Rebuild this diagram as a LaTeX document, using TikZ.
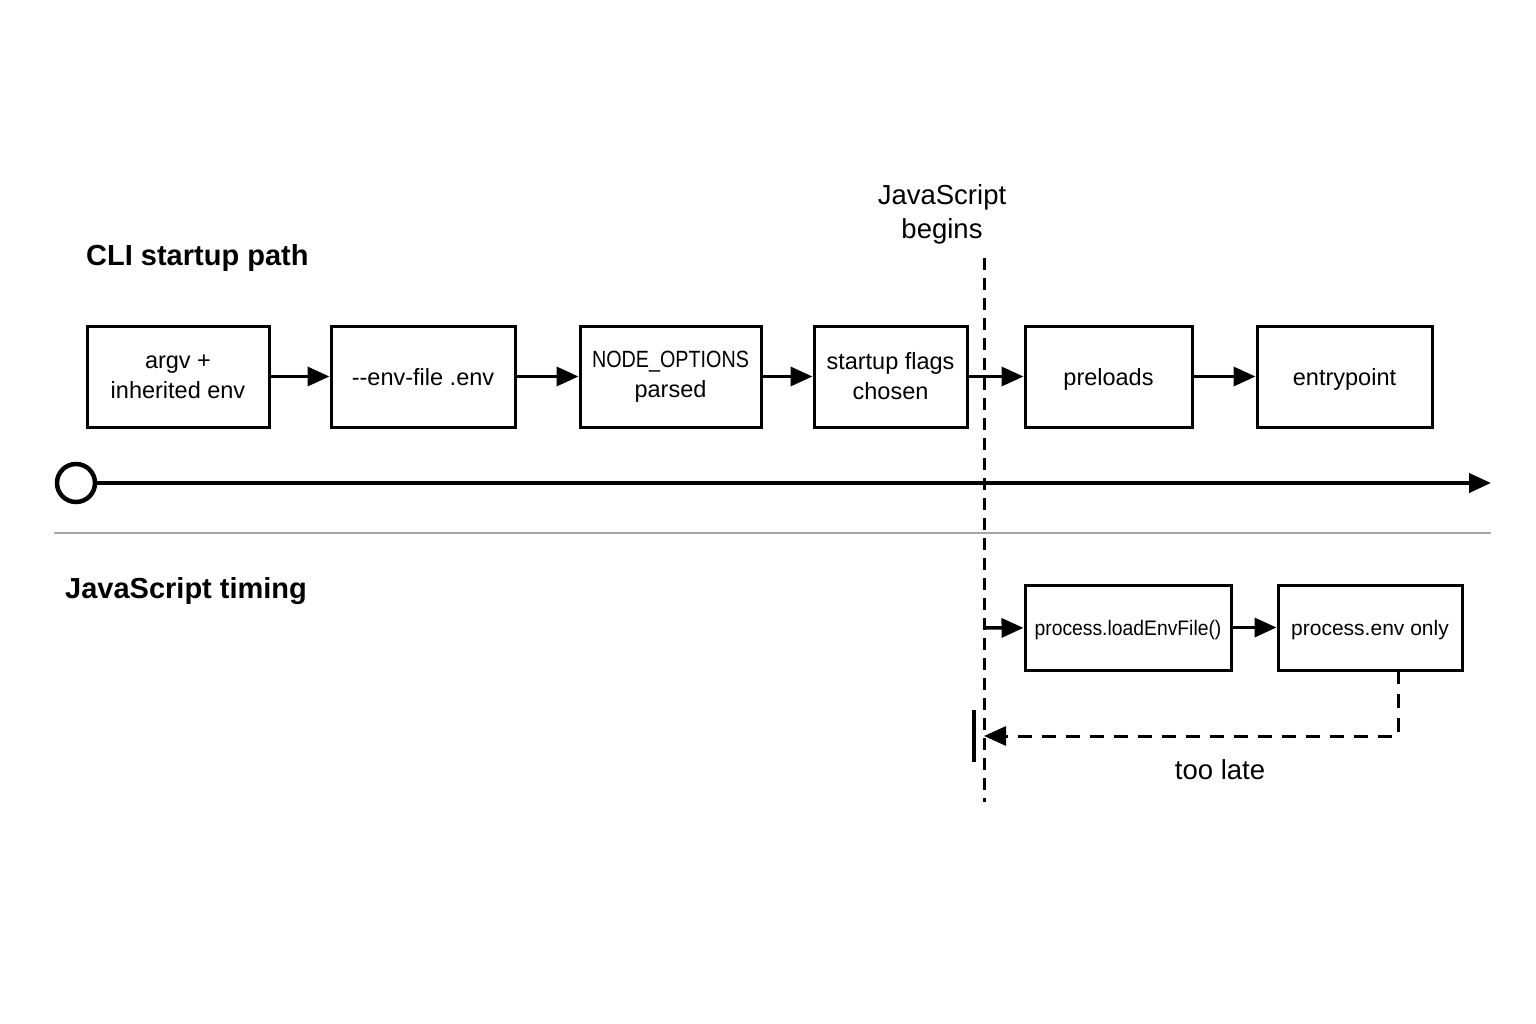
\documentclass[tikz,border=0pt]{standalone}
\usepackage{fontspec}
\setmainfont{Liberation Sans}
\usetikzlibrary{arrows.meta}
\newcommand{\lowr}[1]{\raisebox{-3pt}[\height][\depth]{#1}}
\tikzset{
  x=1pt, y=-1pt,
  box/.style={draw, line width=3pt, minimum height=101pt, align=center, inner sep=0pt, font=\fontsize{23.5}{30}\selectfont},
  sbox/.style={draw, line width=3pt, minimum height=85pt, align=center, inner sep=0pt, font=\fontsize{21}{26}\selectfont},
  flow/.style={line width=3.5pt, -{Triangle[length=22pt,width=19pt]}},
  jsline/.style={line width=3pt, dash pattern=on 12pt off 8pt},
  late/.style={line width=3pt, dash pattern=on 14pt off 10pt, -{Triangle[length=22pt,width=19pt]}},
  title/.style={anchor=west, font=\fontsize{29}{34}\selectfont\bfseries, inner sep=0pt},
  lbl/.style={align=center, font=\fontsize{27.5}{34}\selectfont, inner sep=0pt},
}
\begin{document}
\begin{tikzpicture}
\useasboundingbox[fill=white] (0,0) rectangle (1536,1024);

\node[title] (t1) at (86,258) {CLI startup path};
\node[title] (t2) at (65,591) {JavaScript timing};

\node[box, minimum width=182pt] (b1) at (178,376.5) {argv +\\inherited env};
\node[box, minimum width=184pt] (b2) at (423,376.5) {\lowr{\strut -\kern0pt-env-file .env}};
\node[box, minimum width=181pt] (b3) at (670.5,376.5) {\scalebox{0.84}[1]{NODE\_OPTIONS}\\parsed};
\node[box, minimum width=153pt] (b4) at (890.5,376.5) {startup flags\\chosen};
\node[box, minimum width=167pt] (b5) at (1108.5,376.5) {\lowr{\strut preloads}};
\node[box, minimum width=175pt] (b6) at (1344.5,376.5) {\lowr{\strut entrypoint}};

\draw[flow] (b1) -- (b2);
\draw[flow] (b2) -- (b3);
\draw[flow] (b3) -- (b4);
\draw[flow] (b4) -- (b5);
\draw[flow] (b5) -- (b6);

% timeline
\node[circle, draw, line width=4.5pt, minimum size=38pt, inner sep=0pt] (start) at (76,483) {};
\coordinate (tend) at (1491,483);
\draw[line width=4pt, -{Triangle[length=22pt,width=19pt]}] (start) -- (tend);

% separator
\coordinate (s1) at (54,533);
\coordinate (s2) at (1491,533);
\draw[line width=2.5pt, color=black!35] (s1) -- (s2);

% JavaScript begins
\node[lbl] (jsb) at (942,214) {JavaScript\\begins};
\coordinate (jtop) at (984,258);
\coordinate (jbot) at (984,802);
\draw[jsline] (jtop) -- (jbot);

% lower boxes
\node[sbox, minimum width=206pt] (c1) at (1128,627.5) {\lowr{\strut\scalebox{0.92}[1]{process.loadEnvFile()}}};
\node[sbox, minimum width=184pt] (c2) at (1370,627.5) {\lowr{\strut process.env only}};
\coordinate (jsin) at (984,628);
\draw[flow] (jsin) -- (c1);
\draw[flow] (c1) -- (c2);

% too late
\coordinate (lt1) at (1398,670);
\coordinate (lt2) at (1398,736);
\coordinate (lt3) at (984,736);
\draw[late] (lt1) -- (lt2) -- (lt3);
\coordinate (bar1) at (974,710);
\coordinate (bar2) at (974,762);
\draw[line width=4.5pt] (bar1) -- (bar2);
\node[lbl] (tl) at (1220,770) {too late};
\end{tikzpicture}
\end{document}
